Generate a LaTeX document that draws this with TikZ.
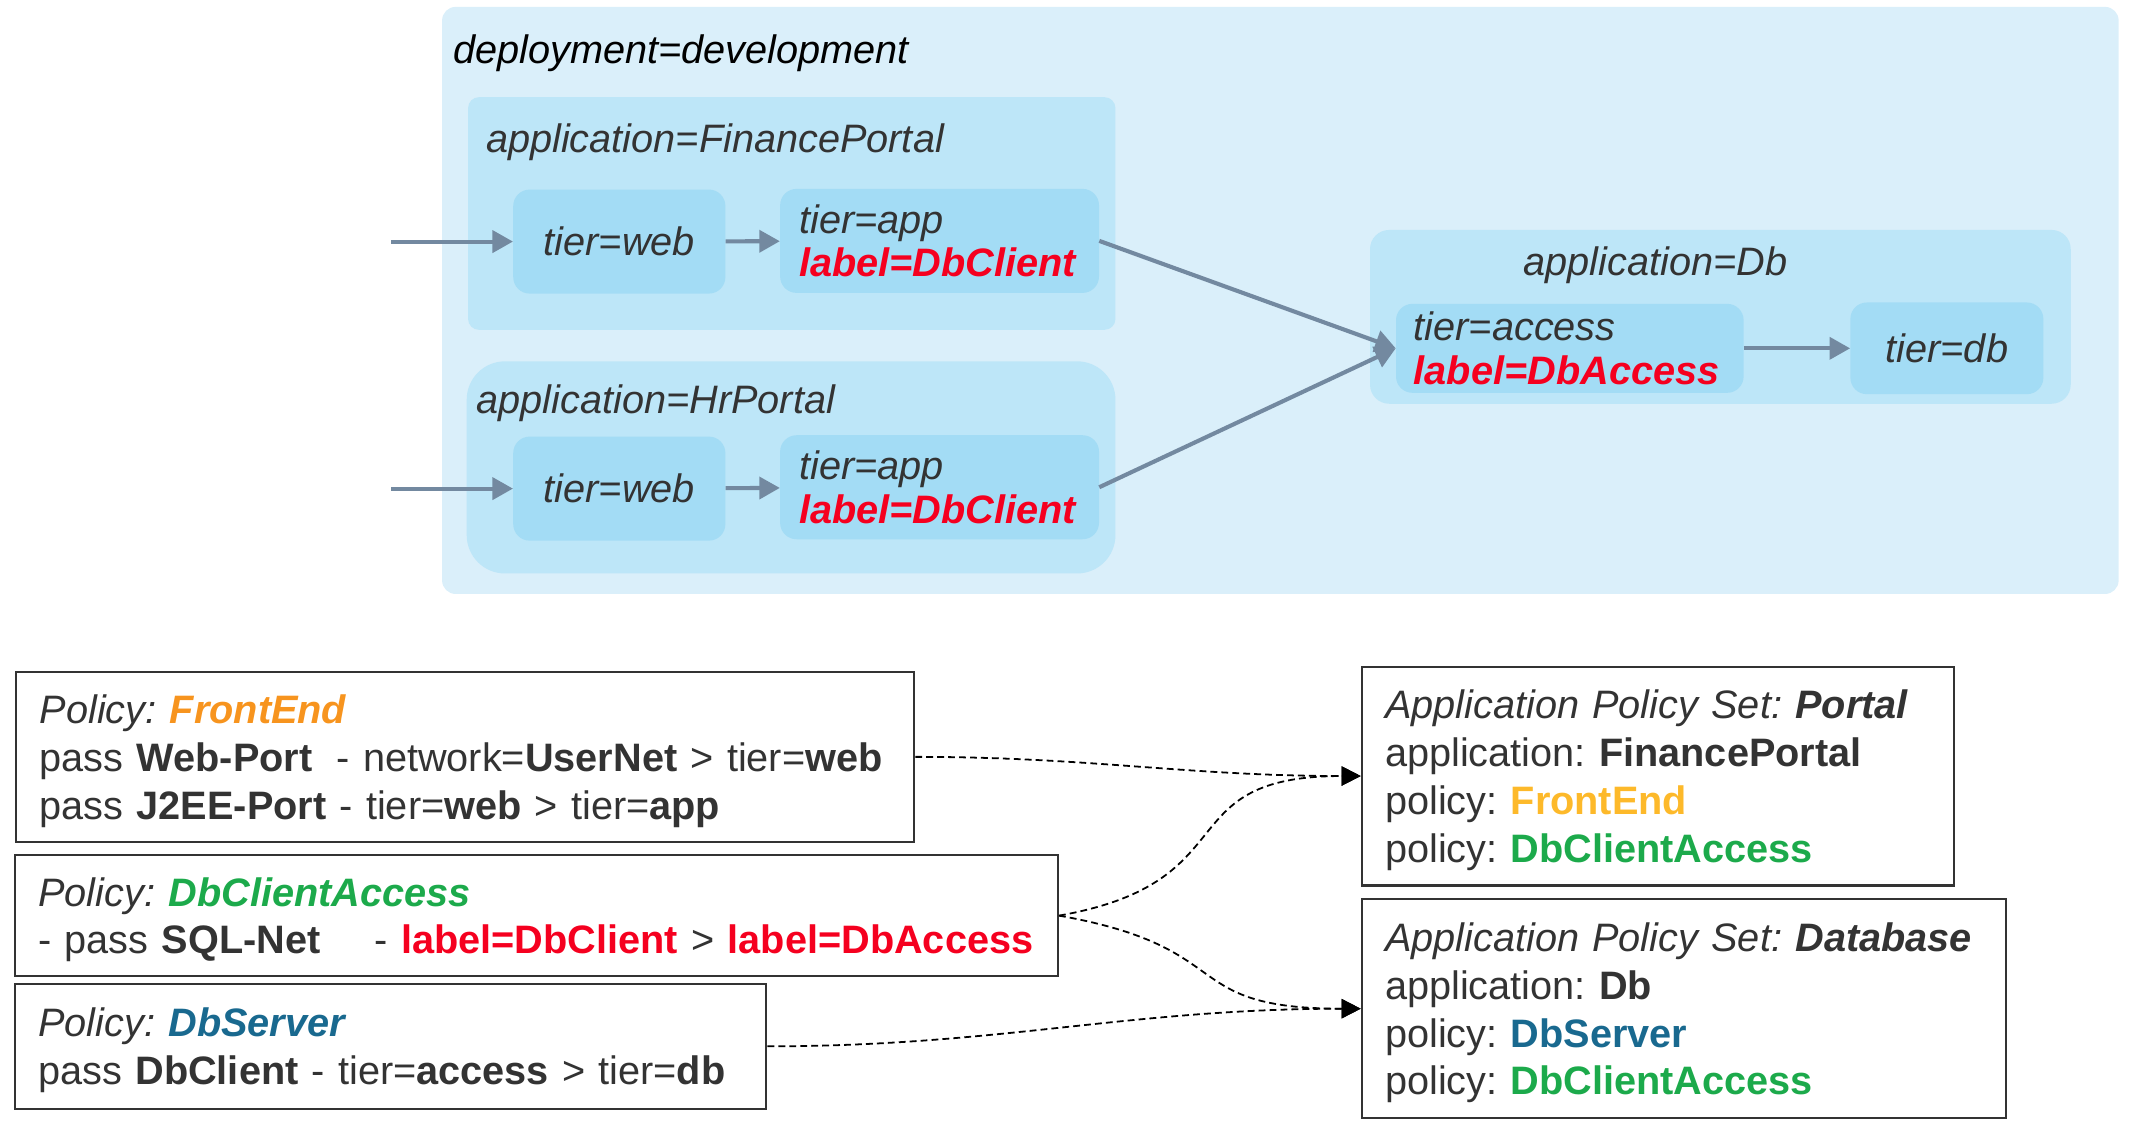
\documentclass[tikz,border=0pt]{standalone}
\usepackage{fontspec}
\setmainfont{Liberation Sans}
\usetikzlibrary{arrows.meta}
\definecolor{ink}{HTML}{333333}
\definecolor{deployfill}{HTML}{DAEFFA}
\definecolor{appfill}{HTML}{BDE6F8}
\definecolor{tierfill}{HTML}{A3DCF5}
\definecolor{flowc}{HTML}{7389A0}
\definecolor{labred}{HTML}{F5001F}
\definecolor{feorange}{HTML}{F7941E}
\definecolor{fegold}{HTML}{FDB92A}
\definecolor{dbgreen}{HTML}{1CAA4B}
\definecolor{dbblue}{HTML}{19698F}
\newcommand{\polstrut}{\rule{0pt}{27pt}}
\frenchspacing
\begin{document}
\begin{tikzpicture}[x=1pt, y=-1pt,
		every node/.style = {inner sep=0pt, text=ink,
			font=\fontsize{29}{35}\selectfont},
		zone/.style = {shape=rectangle, fill=appfill},
		zonelabel/.style = {anchor=west, font=\fontsize{29}{35}\selectfont\itshape},
		tier/.style = {shape=rectangle, rounded corners=12pt, fill=tierfill,
			minimum height=76, font=\fontsize{29}{32}\selectfont\itshape},
		flow/.style = {draw=flowc, line width=3pt,
			-{Triangle[length=15pt, width=16pt]}},
		policy/.style = {shape=rectangle, draw=ink, line width=1.5pt,
			align=left, inner xsep=17pt},
		link/.style = {draw=black, line width=1.3pt, dash pattern=on 5pt off 3pt,
			-{Triangle[length=14pt, width=14pt]}}]
		\useasboundingbox (0,0) rectangle (1568,825.6);
		\node[zone, fill=deployfill, rounded corners=10pt, minimum width=1225, minimum height=429] (deploy) at (935.5,219.5) {};
		\node[zonelabel, text=black] (deploylabel) at (331,39) {deployment=development};
		\node[zone, rounded corners=8pt, minimum width=473, minimum height=170] (finance) at (578.5,156) {};
		\node[zonelabel] (financelabel) at (355,104) {application=FinancePortal};
		\node[tier, minimum width=155] (web1) at (452.5,176.5) {tier=web};
		\node[tier, minimum width=233, text width=205, align=left] (app1) at (686.5,176) {tier=app\\\textbf{\color{labred}label=DbClient}};
		\node[zone, rounded corners=28pt, minimum width=474, minimum height=155] (hr) at (578,341.5) {};
		\node[zonelabel] (hrlabel) at (348,294.5) {application=HrPortal};
		\node[tier, minimum width=155] (web2) at (452.5,357) {tier=web};
		\node[tier, minimum width=233, text width=205, align=left] (app2) at (686.5,356) {tier=app\\\textbf{\color{labred}label=DbClient}};
		\node[zone, rounded corners=14pt, minimum width=512, minimum height=127] (dbapp) at (1257,231.5) {};
		\node[zonelabel] (dbapplabel) at (1113,193.5) {application=Db};
		\node[tier, minimum width=254, minimum height=65, text width=228, align=left] (access) at (1147,254.5) {tier=access\\\textbf{\color{labred}label=DbAccess}};
		\node[tier, minimum width=141, minimum height=67] (db) at (1422.5,254.5) {tier=db};
		\coordinate (in1) at (286,176.5);
		\coordinate (in2) at (286,357);
		\draw[flow] (in1) -- (web1);
		\draw[flow] (web1) -- (app1);
		\draw[flow] (in2) -- (web2);
		\draw[flow] (web2) -- (app2);
		\draw[flow] (app1.east) -- (access.west);
		\draw[flow] (app2.east) -- (access.west);
		\draw[flow] (access) -- (db);
		\node[policy, text width=622, minimum height=124] (frontend) at (340,553)
		{\polstrut\textit{Policy: \textbf{\color{feorange}FrontEnd}}\\
			pass \textbf{Web-Port}\hspace{8pt} - network=\textbf{UserNet} > tier=\textbf{web}\\
			pass \textbf{J2EE-Port} - tier=\textbf{web} > tier=\textbf{app}};
		\node[policy, text width=728, minimum height=88] (dbclient) at (392,669)
		{\polstrut\textit{Policy: \textbf{\color{dbgreen}DbClientAccess}}\\
			- pass \textbf{SQL-Net}\hspace{30pt} - \textbf{\color{labred}label=DbClient} > \textbf{\color{labred}label=DbAccess}};
		\node[policy, text width=515, minimum height=91] (dbserver) at (285.5,764.5)
		{\polstrut\textit{Policy: \textbf{\color{dbblue}DbServer}}\\
			pass \textbf{DbClient} - tier=\textbf{access} > tier=\textbf{db}};
		\node[policy, text width=399, minimum height=160] (portal) at (1211.5,567)
		{\polstrut\textit{Application Policy Set: \textbf{Portal}}\\
			application: \textbf{FinancePortal}\\
			policy: \textbf{\color{fegold}FrontEnd}\\
			policy: \textbf{\color{dbgreen}DbClientAccess}};
		\node[policy, text width=437, minimum height=160] (database) at (1230.5,737)
		{\polstrut\textit{Application Policy Set: \textbf{Database}}\\
			application: \textbf{Db}\\
			policy: \textbf{\color{dbblue}DbServer}\\
			policy: \textbf{\color{dbgreen}DbClientAccess}};
		\draw[link] (frontend.east) to[out=0, in=180] (portal.west);
		\draw[link] (dbclient.east) to[out=10, in=180, looseness=1.5] (portal.west);
		\draw[link] (dbclient.east) to[out=-10, in=180, looseness=1.5] (database.west);
		\draw[link] (dbserver.east) to[out=0, in=180] (database.west);
	\end{tikzpicture}
\end{document}
